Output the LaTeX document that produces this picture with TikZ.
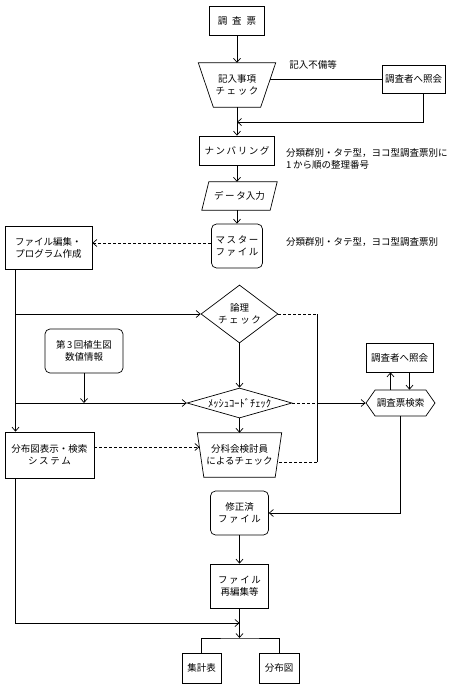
\documentclass[tikz,border=0pt]{standalone}
\usepackage{fontspec}
\setmainfont{Noto Sans CJK JP}
\usetikzlibrary{arrows.meta,shapes.geometric,shapes.symbols}
\begin{document}
\begin{tikzpicture}[x=1pt,y=-1pt,
  every node/.style={font=\fontsize{9.5}{12}\selectfont, align=center, inner sep=1pt},
  ln/.style={line width=0.7pt},
  box/.style={draw, ln, rectangle},
  rbox/.style={box, rounded corners=5pt},
  arr/.style={ln, -{Straight Barb[length=4pt,width=7pt]}},
  dsh/.style={ln, dash pattern=on 3pt off 2pt},
  note/.style={align=left, anchor=west},
  frame/.style={rectangle, inner sep=0pt},
  dia/.style={draw, ln, diamond, inner sep=0pt}]
\useasboundingbox (0,0) rectangle (455,689);
% nodes
\node[box, minimum width=55, minimum height=29] (chosa) at (237,21) {調\hspace{5pt}査\hspace{5pt}票};
\node[frame, minimum width=77, minimum height=44] (kinyu) at (237,85) {記入事項\\チ\,ェ\,ッ\,ク};
\draw[ln] (kinyu.north west) -- (kinyu.north east) -- ([xshift=-15]kinyu.south east) -- ([xshift=15]kinyu.south west) -- cycle;
\node (fubi) at (313,65) {記入不備等};
\node[box, minimum width=63, minimum height=28] (shokai1) at (413.5,79) {調査者へ照会};
\node[box, minimum width=75, minimum height=29] (numb) at (237,150.5) {ナ\,ン\,バ\,リ\,ン\,グ};
\node[note] (ann1) at (285,159) {分類群別・タテ型，ヨコ型調査票別に\\1\,から順の整理番号};
\node[frame, minimum width=75, minimum height=28] (data) at (239.5,196) {デ\,ー\,タ入力};
\draw[ln] (data.south west) -- ([xshift=-7]data.south east) -- (data.north east) -- ([xshift=7]data.north west) -- cycle;
\node[rbox, minimum width=51, minimum height=44] (master) at (237,246) {マ\,ス\,タ\,ー\\フ\,ァ\,イ\,ル};
\node[note] (ann2) at (285,242) {分類群別・タテ型，ヨコ型調査票別};
\node[box, minimum width=87, minimum height=43] (fedit) at (48.5,248) {ファイル編集・\\プログラム作成};
\node[dia, aspect=1.33, minimum width=77, minimum height=58] (logic) at (239.5,314) {論理\\チ\,ェ\,ッ\,ク};
\node[rbox, minimum width=78, minimum height=44] (dai3) at (84,351) {第\,3\,回植生図\\数値情報};
\node[dia, aspect=3.5, minimum width=105, minimum height=30, font=\fontsize{10.5}{12}\selectfont] (mesh) at (239.5,403) {ﾒｯｼｭｺｰﾄﾞﾁｪｯｸ};
\node[box, minimum width=67, minimum height=29] (shokai2) at (399.5,357.5) {調査者へ照会};
\node[draw, ln, signal, signal to=east and west, signal pointer angle=110, inner sep=1pt, minimum width=69, minimum height=26] (kensaku) at (400.5,403) {調査票検索};
\node[box, minimum width=89, minimum height=46] (bunpu) at (49.5,455) {分布図表示・検索\\シ\,ス\,テ\,ム};
\node[frame, minimum width=84, minimum height=44] (bunka) at (239.5,455) {分科会検討員\\によるチェック};
\draw[ln] (bunka.north west) -- (bunka.north east) -- ([xshift=-6.5]bunka.south east) -- ([xshift=6.5]bunka.south west) -- cycle;
\node[rbox, minimum width=58, minimum height=44] (shusei) at (239.5,513) {修正済\\フ\,ァ\,イ\,ル};
\node[box, minimum width=58, minimum height=44] (saihen) at (239.5,586) {フ\,ァ\,イ\,ル\\再編集等};
\node[box, minimum width=39, minimum height=30] (shukei) at (201.5,668) {集計表};
\node[box, minimum width=40, minimum height=30] (bunpuzu) at (279,668) {分布図};
% helper coordinates
\coordinate (j1) at (237,122);
\coordinate (L) at (15.5,314);
\coordinate (R) at (317,403);
\coordinate (kr) at ([xshift=-5.5,yshift=6]kinyu.east);
\coordinate (bk) at ([xshift=-4.3,yshift=-7]bunka.east);
\coordinate (bl) at ([xshift=2.1,yshift=8]bunka.west);
\coordinate (j2) at (239.5,623);
\coordinate (br) at (239.5,638);
% connectors
\draw[arr] (chosa.south) -- (kinyu.north);
\draw[ln] (kr) -- (kr -| shokai1.west);
\draw[arr] ([xshift=9.5]shokai1.south) |- (j1);
\draw[arr] (kinyu.south) -- (numb.north);
\draw[arr] (numb.south) -- (numb.south |- data.north);
\draw[arr] (master.north |- data.south) -- (master.north);
\draw[dsh, arr] ([yshift=3]master.west) -- ([yshift=3]master.west -| fedit.east);
\draw[arr] (fedit.south -| L) -- (bunpu.north -| L);
\draw[arr] (L) -- (logic.west);
\draw[arr] (L |- mesh.west) -- (mesh.west);
\draw[arr] (dai3.south) -- (dai3.south |- mesh.west);
\draw[arr] (logic.south) -- (mesh.north);
\draw[dsh] (logic.east) -- (logic.east -| R);
\draw[ln] (logic.east -| R) -- (bk -| R);
\draw[dsh] (bk -| R) -- (bk);
\draw[dsh] (mesh.east) -- (R);
\draw[arr] (R) -- (kensaku.west);
\draw[arr] ([xshift=-10]kensaku.north) -- ([xshift=-10]kensaku.north |- shokai2.south);
\draw[arr] ([xshift=10]shokai2.south) -- ([xshift=10]shokai2.south |- kensaku.north);
\draw[arr] (mesh.south) -- (bunka.north);
\draw[dsh, arr] (bl -| bunpu.east) -- (bl);
\draw[arr] (kensaku.south) |- (shusei.east);
\draw[arr] (shusei.south) -- (saihen.north);
\draw[arr] (saihen.south) -- (br);
\draw[arr] (bunpu.south -| L) |- (j2);
\draw[ln] (shukei.north) |- (br) -| (bunpuzu.north);
\end{tikzpicture}
\end{document}
